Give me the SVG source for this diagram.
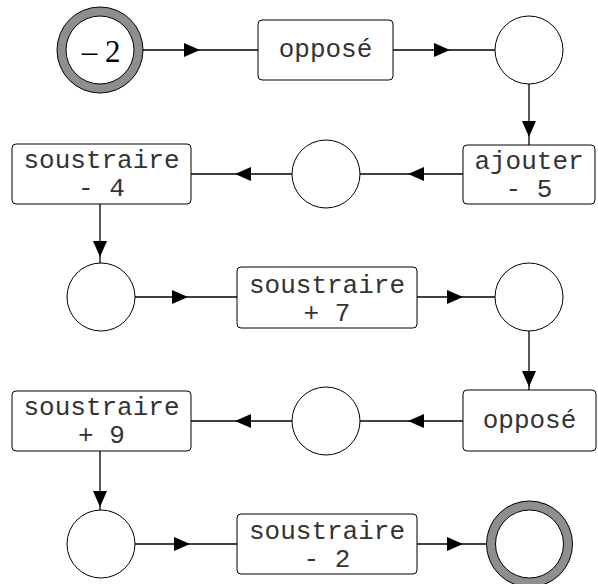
<svg xmlns="http://www.w3.org/2000/svg" width="598" height="584" viewBox="0 0 598 584">
<style>
.box{fill:#fff;stroke:#000;stroke-width:1}
.c{fill:#fff;stroke:#000;stroke-width:1}
.ring{fill:#fff;stroke:#8e8e8e;stroke-width:9}
.ol{fill:none;stroke:#000;stroke-width:1}
.t{font-family:"Liberation Mono","Courier New",monospace;font-size:26px;fill:#333;text-anchor:middle}
.s{font-family:"Liberation Serif","Times New Roman",serif;font-size:31px;fill:#000;text-anchor:middle}
.e{fill:none;stroke:#000;stroke-width:1.3;marker-mid:url(#ah)}
</style>
<defs>
<marker id="ah" viewBox="0 0 16 14" refX="16" refY="7" markerUnits="userSpaceOnUse" markerWidth="16" markerHeight="14" orient="auto">
<path d="M0,0 L16,7 L0,14 Z" fill="#000"/>
</marker>
</defs>
<g id="connectors">
<path class="e" d="M142,50 L200,50 L258,50"/>
<path class="e" d="M393,50 L450,50 L495,50"/>
<path class="e" d="M529,84 L529,137 L529,145"/>
<path class="e" d="M463,174 L408,174 L360,174"/>
<path class="e" d="M292,174 L235,174 L191,174"/>
<path class="e" d="M100,204 L100,257 L100,263"/>
<path class="e" d="M135,297 L188,297 L237,297"/>
<path class="e" d="M417,297 L463,297 L495,297"/>
<path class="e" d="M529,331 L529,387 L529,390"/>
<path class="e" d="M463,421 L408,421 L360,421"/>
<path class="e" d="M292,421 L235,421 L191,421"/>
<path class="e" d="M100,451 L100,507 L100,510"/>
<path class="e" d="M135,544 L190,544 L237,544"/>
<path class="e" d="M417,544 L463,544 L486,544"/>
</g>
<g id="start">
<circle class="ring" cx="100" cy="50" r="38.5"/>
<circle class="ol" cx="100" cy="50" r="43"/>
<circle class="ol" cx="100" cy="50" r="34"/>
<text class="s" x="101" y="62">– 2</text>
</g>
<g id="op1"><rect class="box" x="258" y="20" width="135" height="60" rx="4"/><text class="t" x="325.5" y="57">opposé</text></g>
<g id="c1"><circle class="c" cx="529" cy="50" r="34"/></g>
<g id="add5"><rect class="box" x="463" y="145" width="132" height="59" rx="4"/><text class="t" x="529" y="169">ajouter</text><text class="t" x="529" y="197">- 5</text></g>
<g id="c2"><circle class="c" cx="326" cy="174" r="34"/></g>
<g id="sub4"><rect class="box" x="12" y="144" width="179" height="60" rx="4"/><text class="t" x="101.5" y="168">soustraire</text><text class="t" x="101.5" y="196">- 4</text></g>
<g id="c3"><circle class="c" cx="101" cy="297" r="34"/></g>
<g id="sub7"><rect class="box" x="237" y="267" width="180" height="61" rx="4"/><text class="t" x="327" y="293">soustraire</text><text class="t" x="327" y="321">+ 7</text></g>
<g id="c4"><circle class="c" cx="529" cy="297" r="34"/></g>
<g id="op2"><rect class="box" x="463" y="390" width="133" height="61" rx="4"/><text class="t" x="529.5" y="428">opposé</text></g>
<g id="c5"><circle class="c" cx="326" cy="421" r="34"/></g>
<g id="sub9"><rect class="box" x="12" y="391" width="179" height="60" rx="4"/><text class="t" x="101.5" y="415">soustraire</text><text class="t" x="101.5" y="443">+ 9</text></g>
<g id="c6"><circle class="c" cx="101" cy="544" r="34"/></g>
<g id="sub2"><rect class="box" x="237" y="514" width="180" height="60" rx="4"/><text class="t" x="327" y="539">soustraire</text><text class="t" x="327" y="567">- 2</text></g>
<g id="end">
<circle class="ring" cx="529.5" cy="544" r="38.5"/>
<circle class="ol" cx="529.5" cy="544" r="43"/>
<circle class="ol" cx="529.5" cy="544" r="34"/>
</g>
</svg>
